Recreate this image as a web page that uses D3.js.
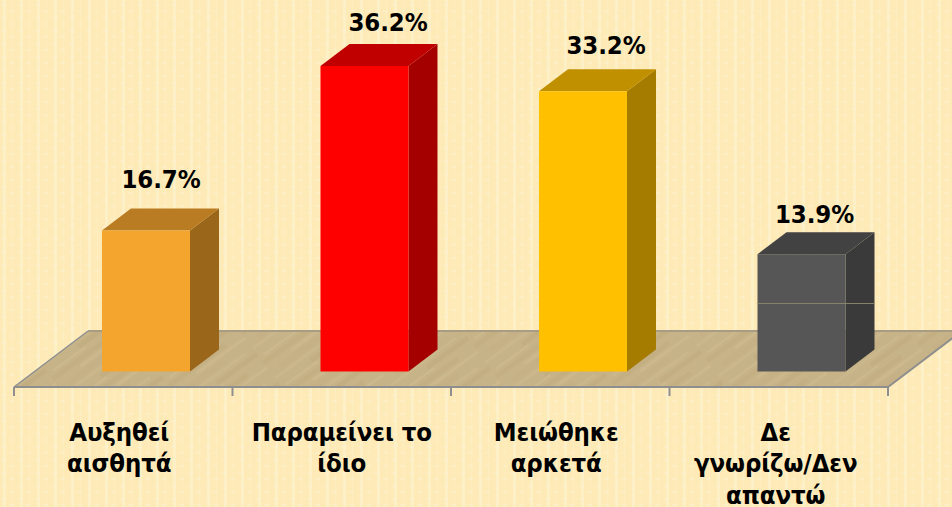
<!DOCTYPE html>
<html><head><meta charset="utf-8">
<script src="https://cdn.jsdelivr.net/npm/d3@7"></script>
<style>html,body{margin:0;padding:0;background:#fdedbd}svg{display:block}
text{font-family:"DejaVu Sans Condensed","DejaVu Sans",sans-serif;font-stretch:condensed;font-weight:bold;fill:#000}</style>
</head><body><svg id="c" width="952" height="507"></svg>
<script>
const categories = [["Αυξηθεί","αισθητά"],["Παραμείνει το","ίδιο"],["Μειώθηκε","αρκετά"],["Δε","γνωρίζω/Δεν","απαντώ"]];
const values = [16.7,36.2,33.2,13.9];
const valueLabels = ["16.7%","36.2%","33.2%","13.9%"];
const frontColors = ["#f3a52e","#ff0000","#ffc000","#565656"];
const topColors = ["#b97c22","#c00000","#c09000","#424242"];
const sideColors = ["#99661a","#a50000","#a67c00","#3a3a3a"];
// label placement relative to each bar, as seen in the picture
const labelLift = [43,35,37,31];
const labelShift = [59,67.5,67,57];
const categoryShift = [-4,0,-4,-3];

const W=952,H=507;
const svg=d3.select("#c");
const defs=svg.append("defs");
const bg=defs.append("pattern").attr("id","bg").attr("patternUnits","userSpaceOnUse").attr("width",17).attr("height",13);
bg.append("rect").attr("width",17).attr("height",13).attr("fill","#fdeab7");
bg.append("rect").attr("x",3).attr("width",3).attr("height",13).attr("fill","#fdefc6");
bg.append("rect").attr("x",12).attr("width",1).attr("height",13).attr("fill","#fdedbf");
[[1,4],[9,10]].forEach(d=>bg.append("rect").attr("x",d[0]).attr("y",d[1]).attr("width",5).attr("height",2).attr("fill","#fef2d2").attr("opacity",.45));

const fl=defs.append("pattern").attr("id","floor").attr("patternUnits","userSpaceOnUse").attr("width",90).attr("height",37).attr("patternTransform","rotate(-36)");
fl.append("rect").attr("width",90).attr("height",37).attr("fill","#c7b388");
[[2,5,0,70,"#bfaa7e"],[9,3,30,60,"#cfbc92"],[14,6,10,50,"#c2ae82"],[22,3,0,80,"#ccb98e"],[28,5,40,50,"#bda97c"],[34,2,5,40,"#d0bd94"]]
  .forEach(d=>fl.append("rect").attr("y",d[0]).attr("height",d[1]).attr("x",d[2]).attr("width",d[3]).attr("fill",d[4]).attr("opacity",.55));

svg.append("rect").attr("width",W).attr("height",H).attr("fill","url(#bg)");

const x=d3.scaleBand().domain(d3.range(categories.length)).range([14,888]);
const y=d3.scaleLinear().domain([0,36.2]).range([371.5,66]);
const depthX=29,depthY=22,barOffset=88,barW=88;
const floorFront=387,floorBack=331,floorDX=74;

svg.append("path").attr("d",`M14,${floorFront}L${14+floorDX},${floorBack}L${888+floorDX},${floorBack}L888,${floorFront}Z`)
  .attr("fill","url(#floor)");
svg.append("path").attr("d",`M${14+floorDX},${floorBack}L${888+floorDX},${floorBack}`)
  .attr("fill","none").attr("stroke","#a89c83").attr("stroke-width",2);
svg.append("path").attr("d",`M14,${floorFront}L${14+floorDX},${floorBack}`)
  .attr("fill","none").attr("stroke","#8f9092").attr("stroke-width",1.5);
svg.append("path").attr("d",`M14,${floorFront}L888,${floorFront}L${888+floorDX},${floorBack}`)
  .attr("fill","none").attr("stroke","#8e8e8e").attr("stroke-width",2);

const ticks=x.domain().map(d=>x(d)).concat([888]);
svg.selectAll(".tick").data(ticks).join("line").attr("class","tick")
  .attr("x1",d=>d).attr("x2",d=>d).attr("y1",floorFront).attr("y2",floorFront+9)
  .attr("stroke","#8e8e8e").attr("stroke-width",2);

const g=svg.selectAll(".bar").data(values).join("g").attr("class","bar");
g.append("path").attr("fill",(d,i)=>sideColors[i]).attr("d",(d,i)=>{
  const l=x(i)+barOffset+barW,t=y(d),b=y(0);
  return `M${l},${t}L${l+depthX},${t-depthY}L${l+depthX},${b-depthY}L${l},${b}Z`;});
g.append("path").attr("fill",(d,i)=>topColors[i]).attr("d",(d,i)=>{
  const l=x(i)+barOffset,t=y(d);
  return `M${l},${t}L${l+depthX},${t-depthY}L${l+barW+depthX},${t-depthY}L${l+barW},${t}Z`;});
g.append("rect").attr("fill",(d,i)=>frontColors[i])
  .attr("x",(d,i)=>x(i)+barOffset).attr("y",d=>y(d)).attr("width",barW).attr("height",d=>y(0)-y(d));

// faint seam across the last bar
svg.append("line").attr("x1",x(3)+barOffset).attr("x2",x(3)+barOffset+barW+depthX)
  .attr("y1",303.5).attr("y2",303.5).attr("stroke","#85826c").attr("stroke-width",1);

svg.selectAll(".val").data(values).join("text").attr("class","val")
  .attr("x",(d,i)=>x(i)+barOffset+labelShift[i])
  .attr("y",(d,i)=>y(d)-labelLift[i])
  .attr("text-anchor","middle").attr("font-size",25.5).style("letter-spacing","-0.1px").text((d,i)=>valueLabels[i]);

svg.selectAll(".cat").data(categories).join("text").attr("class","cat")
  .attr("text-anchor","middle").attr("font-size",25.5).style("letter-spacing","-0.1px")
  .each(function(d,i){
    d3.select(this).selectAll("tspan").data(d).join("tspan")
      .attr("x",x(i)+x.bandwidth()/2+categoryShift[i]).attr("y",(t,j)=>440.5+j*31.5).text(t=>t);
  });
</script></body></html>
